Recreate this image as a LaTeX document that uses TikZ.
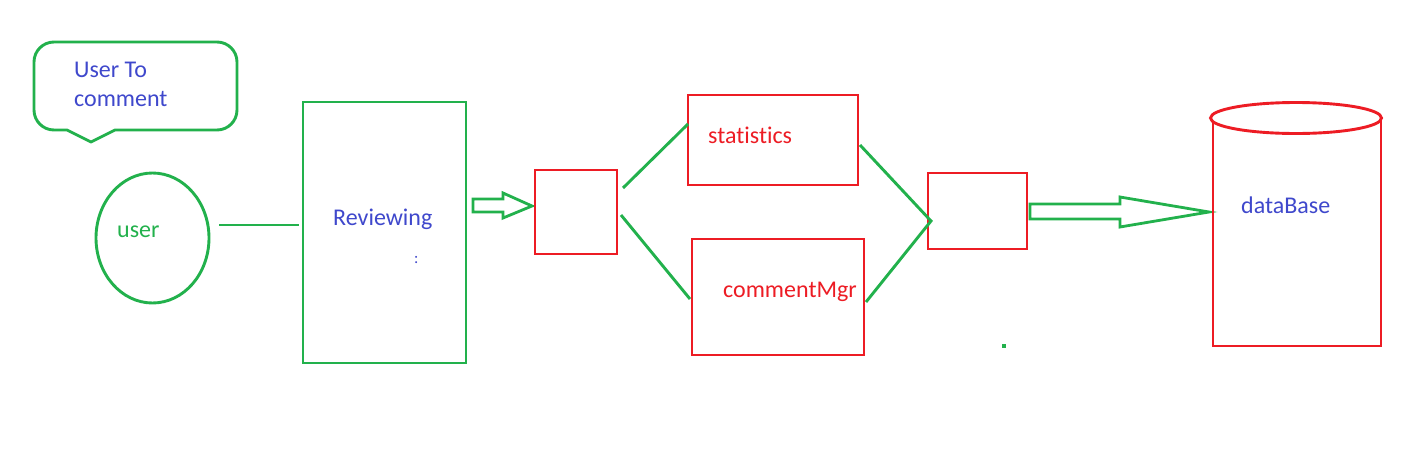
\documentclass[tikz,border=0pt]{standalone}
\usepackage{fontspec}
\setmainfont{Carlito}[Ligatures={NoCommon}]
\usetikzlibrary{shapes.geometric}
\definecolor{pgreen}{RGB}{34,177,76}
\definecolor{pred}{RGB}{237,28,36}
\definecolor{pblue}{RGB}{63,72,204}
\tikzset{
  gline/.style={draw=pgreen, line width=2.9pt},
  rbox/.style={draw=pred, line width=2.9pt, rectangle, inner sep=0pt},
  lbl/.style={font=\fontsize{24}{28}\selectfont, anchor=west, inner sep=0pt},
}
\begin{document}
\begin{tikzpicture}[x=1pt,y=-1pt]
\useasboundingbox[fill=white] (0,0) rectangle (1423,471);
% speech bubble
\draw[gline, line join=round] (67,130) -- (91,142) -- (115,130) -- (217,130)
  arc[start angle=-90, end angle=0, radius=20pt] -- (237,62)
  arc[start angle=0, end angle=90, radius=20pt] -- (54,42)
  arc[start angle=90, end angle=180, radius=20pt] -- (34,110)
  arc[start angle=180, end angle=270, radius=20pt] -- cycle;
\node[lbl, text=pblue] (ut1) at (74,70) {User To};
\node[lbl, text=pblue] (ut2) at (74,99) {comment};
% user
\node[draw=pgreen, line width=2.9pt, ellipse, minimum width=113pt, minimum height=130pt, inner sep=0pt] (user) at (152.5,238) {};
\node[lbl, text=pgreen] (usert) at (117,232) {user};
% reviewing
\node[draw=pgreen, line width=2.9pt, rectangle, minimum width=163pt, minimum height=261pt, inner sep=0pt] (rev) at (384.5,232.5) {};
\node[lbl, text=pblue] (revt) at (333,219) {Reviewing};
\node[lbl, text=pblue, font=\fontsize{16}{18}\selectfont] (colon) at (414,260) {:};
\coordinate (u1) at (219,225);
\coordinate (u2) at (299,225);
\draw[gline] (u1) -- (u2);
% hollow arrow 1
\draw[draw=pgreen, line width=2.8pt, line join=miter] (473,199) -- (503,199) -- (503,193) -- (532,206) -- (503,218) -- (503,212) -- (473,212) -- cycle;
% small box 1
\node[rbox, minimum width=82pt, minimum height=84pt] (b1) at (576,212) {};
% statistics
\node[rbox, minimum width=170pt, minimum height=90pt] (stat) at (773,140) {};
\node[lbl, text=pred] (statt) at (708,135) {statistics};
% commentMgr
\node[rbox, minimum width=172pt, minimum height=116pt] (cmg) at (778,297) {};
\node[lbl, text=pred] (cmgt) at (723,292) {commentMgr};
% small box 2
\node[rbox, minimum width=99pt, minimum height=76pt] (b2) at (977.5,211) {};
% connectors
\coordinate (l1a) at (623,188); \coordinate (l1b) at (688,124);
\coordinate (l2a) at (621,215); \coordinate (l2b) at (690,299);
\coordinate (l3a) at (860,145); \coordinate (l3b) at (931,221);
\coordinate (l4a) at (866,302);
\draw[gline] (l1a) -- (l1b);
\draw[gline] (l2a) -- (l2b);
\draw[gline] (l3a) -- (l3b) -- (l4a);
% big hollow arrow
\draw[draw=pgreen, line width=2.8pt, line join=miter] (1030,204) -- (1120,204) -- (1120,197) -- (1209,212) -- (1120,227) -- (1120,219) -- (1030,219) -- cycle;
% database
\draw[draw=pred, line width=2.9pt] (1213,118) -- (1213,346) -- (1381,346) -- (1381,118);
\node[draw=pred, line width=2.9pt, ellipse, minimum width=171pt, minimum height=31pt, inner sep=0pt, fill=white] (dbtop) at (1296,118) {};
\node[lbl, text=pblue] (dbt) at (1241,205) {dataBase};
% dot
\node[fill=pgreen, minimum size=3.5pt, inner sep=0pt] (dot) at (1004,346) {};
\end{tikzpicture}
\end{document}
